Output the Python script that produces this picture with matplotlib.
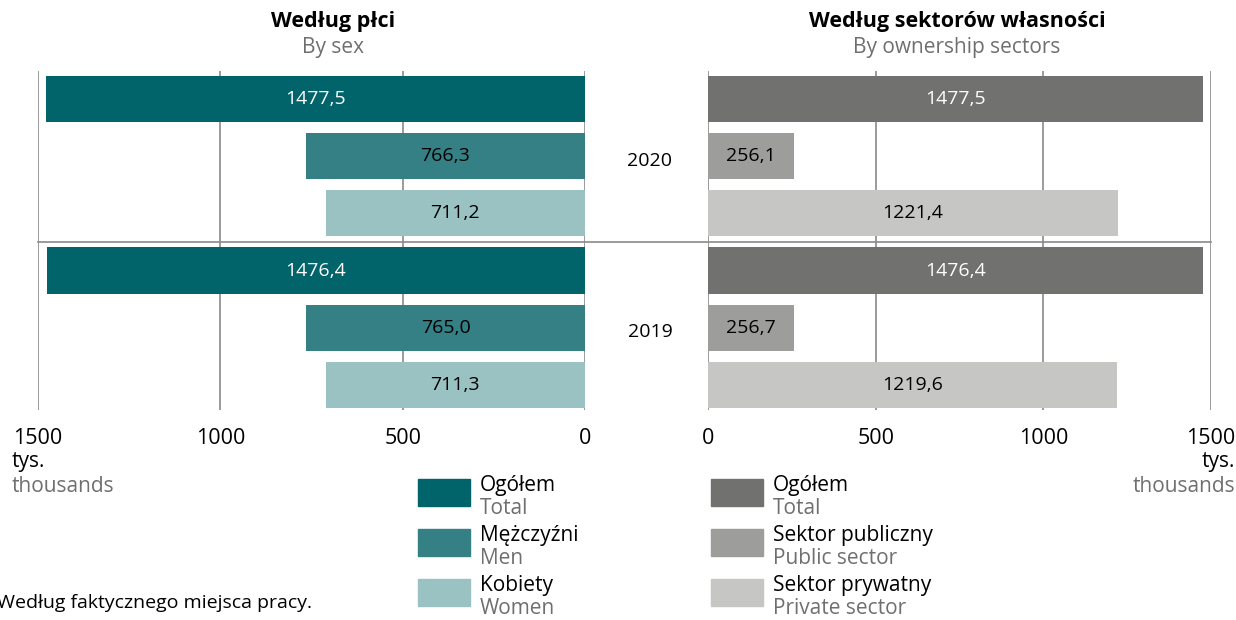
import matplotlib.pyplot as plt
from matplotlib.patches import Rectangle
from matplotlib.lines import Line2D
from matplotlib.transforms import blended_transform_factory

plt.rcParams['font.family'] = ['Open Sans', 'DejaVu Sans']

# data
years = ['2020', '2019']
sex_pl = ['Ogółem', 'Mężczyźni', 'Kobiety']
sex_en = ['Total', 'Men', 'Women']
sex_2020 = [1477.5, 766.3, 711.2]
sex_2019 = [1476.4, 765.0, 711.3]
sector_pl = ['Ogółem', 'Sektor publiczny', 'Sektor prywatny']
sector_en = ['Total', 'Public sector', 'Private sector']
sector_2020 = [1477.5, 256.1, 1221.4]
sector_2019 = [1476.4, 256.7, 1219.6]
ticks = [0, 500, 1000, 1500]

sex_colors = ['#00646a', '#358084', '#9bc2c3']
sector_colors = ['#71716f', '#9d9d9c', '#c6c6c5']
label_colors = ['white', 'black', 'black']
GREY = '#6f6f6f'
GRID = '#8a8a8a'
FS = 15

W, H = 1236, 620
fig = plt.figure(figsize=(W / 100, H / 100), dpi=100)


def fx(px):
    return px / W


def fy(py):
    return 1 - py / H


def fmt(v):
    return f'{v:.1f}'.replace('.', ',')


ax_l = fig.add_axes([fx(38), fy(410), 547 / W, 339 / H])
ax_r = fig.add_axes([fx(708), fy(410), 503 / W, 339 / H])


def draw_panel(ax, series, colors):
    for i, vals in enumerate(series):
        for j, v in enumerate(vals):
            pos = i * 3 + j
            ax.barh(pos, v, height=0.81, color=colors[j], zorder=2)
            ax.text(v / 2, pos, fmt(v), ha='center', va='center',
                    fontsize=14, color=label_colors[j], zorder=3)
    ax.set_ylim(5.44, -0.49)
    ax.set_xlim(0, 1500)
    ax.set_xticks(ticks)
    ax.set_xticklabels([str(t) for t in ticks], fontsize=15.5)
    ax.set_yticks([])
    ax.grid(axis='x', color=GRID, lw=1.2, zorder=0)
    ax.set_axisbelow(True)
    ax.tick_params(axis='x', length=0, pad=13)
    for s in ax.spines.values():
        s.set_visible(False)


draw_panel(ax_l, [sex_2020, sex_2019], sex_colors)
draw_panel(ax_r, [sector_2020, sector_2019], sector_colors)
ax_l.invert_xaxis()

# separator between years
y_sep = ax_l.transData.transform((0, 2.5))[1] / H
fig.add_artist(Line2D([fx(38), fx(1211)], [y_sep, y_sep], color=GRID, lw=1.2))

# year labels in the gap
tr = blended_transform_factory(fig.transFigure, ax_r.transData)
for i, yr in enumerate(years):
    ax_r.text(fx(650), i * 3 + 1.08, yr, transform=tr, ha='center', va='center',
              fontsize=14, clip_on=False)

# titles
fig.text(fx(333), fy(22), 'Według płci', ha='center', va='center',
         fontsize=15.5, fontweight='bold')
fig.text(fx(333), fy(47), 'By sex', ha='center', va='center', fontsize=FS, color=GREY)
fig.text(fx(957), fy(22), 'Według sektorów własności', ha='center', va='center',
         fontsize=15.5, fontweight='bold')
fig.text(fx(957), fy(47), 'By ownership sectors', ha='center', va='center',
         fontsize=FS, color=GREY)

# units
fig.text(fx(12), fy(462), 'tys.', ha='left', va='center', fontsize=FS)
fig.text(fx(12), fy(487), 'thousands', ha='left', va='center', fontsize=FS, color=GREY)
fig.text(fx(1235), fy(462), 'tys.', ha='right', va='center', fontsize=FS)
fig.text(fx(1235), fy(487), 'thousands', ha='right', va='center', fontsize=FS, color=GREY)

# legends
def draw_legend(x0, names_pl, names_en, colors):
    for k, (pl, en, c) in enumerate(zip(names_pl, names_en, colors)):
        top = 479 + k * 50
        fig.add_artist(Rectangle((fx(x0), fy(top + 27)), 52 / W, 27 / H,
                                 transform=fig.transFigure, color=c))
        fig.text(fx(x0 + 62), fy(top + 7), pl, ha='left', va='center', fontsize=FS)
        fig.text(fx(x0 + 62), fy(top + 29), en, ha='left', va='center',
                 fontsize=FS, color=GREY)


draw_legend(418, sex_pl, sex_en, sex_colors)
draw_legend(711, sector_pl, sector_en, sector_colors)

fig.text(fx(-3), fy(603), 'Według faktycznego miejsca pracy.', ha='left', va='center',
         fontsize=14)

fig.savefig('out.png', dpi=100)
